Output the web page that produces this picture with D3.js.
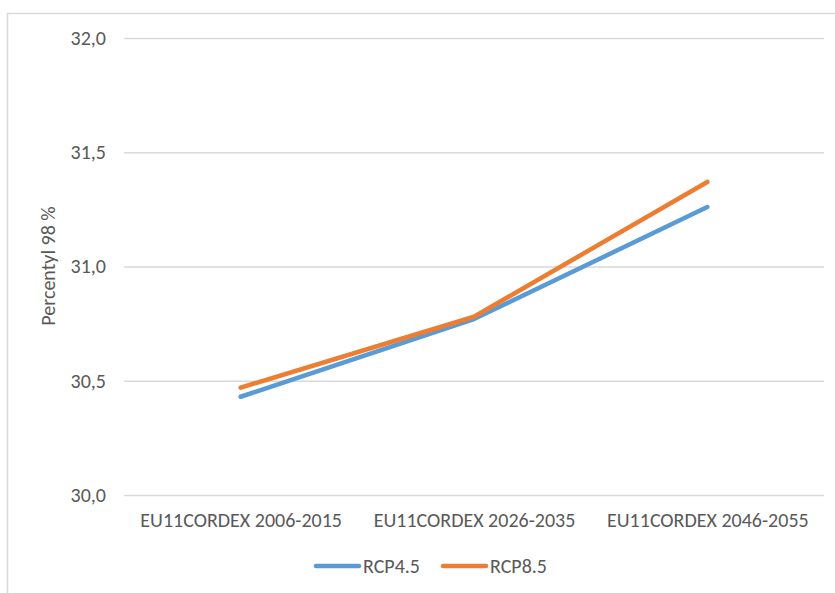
<!DOCTYPE html>
<html>
<head>
<meta charset="utf-8">
<script src="https://cdn.jsdelivr.net/npm/d3@7"></script>
<style>
  body { margin: 0; background: #fff; }
  text { font-family: Calibri, "Liberation Sans", Arial, sans-serif; fill: #595959; }
</style>
</head>
<body>
<div id="chart"></div>
<script>
const categories = ['EU11CORDEX 2006-2015', 'EU11CORDEX 2026-2035', 'EU11CORDEX 2046-2055'];
const rcp45 = [30.43, 30.77, 31.26];
const rcp85 = [30.47, 30.78, 31.37];
const yTicks = [30.0, 30.5, 31.0, 31.5, 32.0];
const seriesNames = ['RCP4.5', 'RCP8.5'];
const colors = ['#5b9bd5', '#ed7d31'];

const width = 835;
const height = 593;
const plot = { left: 124, right: 824, top: 38, bottom: 495 };
const fontSize = '20px';

const svg = d3.select('#chart')
  .append('svg')
  .attr('width', width)
  .attr('height', height);

// chart frame (runs off the right and bottom edge)
svg.append('rect')
  .attr('x', 7.5)
  .attr('y', 13.5)
  .attr('width', 900)
  .attr('height', 700)
  .attr('fill', 'none')
  .attr('stroke', '#d9d9d9')
  .attr('stroke-width', 1.5);

const x = d3.scalePoint()
  .domain(categories)
  .range([plot.left, plot.right])
  .padding(0.5);

const y = d3.scaleLinear()
  .domain([30, 32])
  .range([plot.bottom, plot.top]);

// gridlines + y labels
const yAxis = d3.axisLeft(y)
  .tickValues(yTicks)
  .tickSize(-(plot.right - plot.left))
  .tickPadding(18)
  .tickFormat(d => d3.format('.1f')(d).replace('.', ','));

svg.append('g')
  .attr('transform', `translate(${plot.left},0)`)
  .call(yAxis)
  .call(g => g.select('.domain').remove())
  .call(g => g.selectAll('line').attr('stroke', '#d9d9d9').attr('stroke-width', 1.3))
  .call(g => g.selectAll('text').attr('fill', '#595959').style('font-size', fontSize).style('font-family', null));

// category labels
const xAxis = d3.axisBottom(x).tickSize(0).tickPadding(18);
svg.append('g')
  .attr('transform', `translate(0,${plot.bottom})`)
  .call(xAxis)
  .call(g => g.select('.domain').remove())
  .call(g => g.selectAll('text').attr('fill', '#595959').style('font-size', fontSize));

// y axis title
svg.append('text')
  .attr('transform', 'translate(48,266) rotate(-90)')
  .attr('text-anchor', 'middle')
  .attr('dy', '0.35em')
  .style('font-size', fontSize)
  .text('Percentyl 98 %');

// lines
const line = d3.line()
  .x((d, i) => x(categories[i]))
  .y(d => y(d));

[rcp45, rcp85].forEach((values, i) => {
  svg.append('path')
    .datum(values)
    .attr('d', line)
    .attr('fill', 'none')
    .attr('stroke', colors[i])
    .attr('stroke-width', 4.5)
    .attr('stroke-linecap', 'round')
    .attr('stroke-linejoin', 'round');
});

// legend
const legendItems = [
  { name: seriesNames[0], color: colors[0], x: 316 },
  { name: seriesNames[1], color: colors[1], x: 443 }
];
const legend = svg.append('g').attr('transform', 'translate(0,566)');
legendItems.forEach(item => {
  legend.append('line')
    .attr('x1', item.x)
    .attr('x2', item.x + 43)
    .attr('stroke', item.color)
    .attr('stroke-width', 4.5)
    .attr('stroke-linecap', 'round');
  legend.append('text')
    .attr('x', item.x + 47)
    .attr('dy', '0.35em')
    .style('font-size', fontSize)
    .text(item.name);
});
</script>
</body>
</html>
